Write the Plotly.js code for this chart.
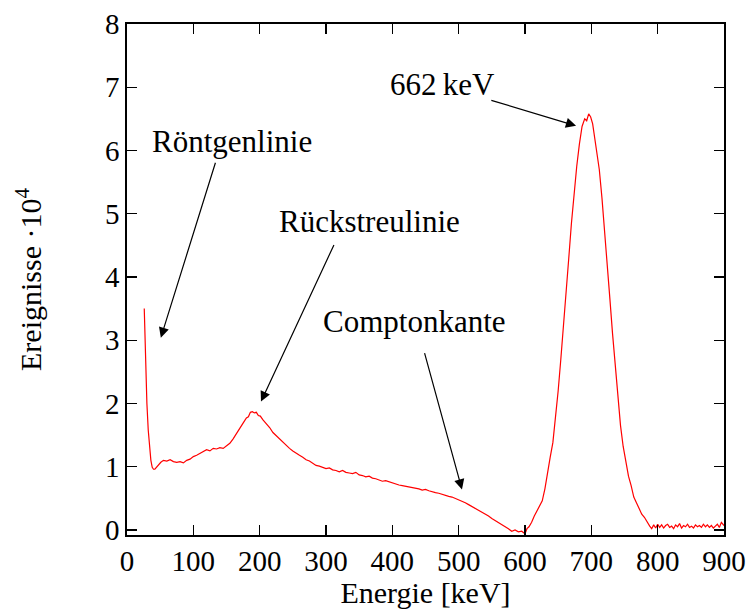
<!DOCTYPE html>
<html>
<head>
<meta charset="utf-8">
<script src="https://cdn.plot.ly/plotly-3.0.1.min.js"></script>
<style>
  html, body { margin: 0; padding: 0; background: #ffffff; }
  #chart { width: 751px; height: 609px; }
</style>
</head>
<body>
<div id="chart"></div>
<script>
// Gamma spectrum of Cs-137: energy in keV, counts in units of 10^4
const energy = [
  26, 28, 30, 32, 34, 36, 38, 40, 42, 45, 48, 51, 55, 60, 65, 70, 75, 80, 85, 90,
  95, 100, 105, 110, 115, 120, 125, 130, 135, 140, 145, 150, 155, 160, 165, 170, 175, 180, 183, 186,
  189, 192, 195, 198, 201, 205, 210, 215, 220, 225, 230, 235, 240, 245, 250, 255, 260, 265, 270, 275,
  280, 285, 290, 295, 300, 305, 310, 315, 320, 325, 330, 335, 340, 345, 350, 355, 360, 365, 370, 375,
  380, 385, 390, 395, 400, 405, 410, 415, 420, 425, 430, 435, 440, 445, 450, 455, 460, 465, 470, 475,
  480, 485, 490, 495, 500, 505, 510, 515, 520, 525, 530, 535, 540, 545, 550, 555, 560, 565, 570, 575,
  580, 585, 590, 595, 600, 603, 606, 610, 614, 618, 622, 626, 630, 634, 638, 642, 646, 650, 654, 658,
  662, 666, 670, 674, 678, 682, 686, 690, 693, 696, 699, 702, 705, 708, 712, 716, 720, 724, 728, 732,
  736, 740, 744, 748, 752, 756, 760, 764, 768, 772, 776, 780, 784, 788, 791, 794, 797, 800, 803, 806,
  809, 812, 815, 818, 821, 824, 827, 830, 833, 836, 839, 842, 845, 848, 851, 854, 857, 860, 863, 866,
  869, 872, 875, 878, 881, 884, 887, 890, 893, 896, 900
];
const counts = [
  3.50, 2.55, 2.00, 1.58, 1.28, 1.10, 0.99, 0.96, 0.96, 1.00, 1.04, 1.07, 1.10, 1.09, 1.11, 1.08, 1.07, 1.08, 1.06, 1.10,
  1.12, 1.16, 1.18, 1.21, 1.23, 1.27, 1.25, 1.29, 1.28, 1.30, 1.29, 1.33, 1.37, 1.44, 1.53, 1.62, 1.69, 1.77, 1.79, 1.86,
  1.87, 1.85, 1.86, 1.81, 1.80, 1.74, 1.68, 1.62, 1.54, 1.49, 1.44, 1.38, 1.34, 1.29, 1.25, 1.21, 1.18, 1.15, 1.11, 1.09,
  1.05, 1.02, 1.01, 0.99, 0.97, 0.98, 0.95, 0.94, 0.92, 0.94, 0.91, 0.90, 0.89, 0.91, 0.87, 0.86, 0.84, 0.85, 0.82, 0.81,
  0.79, 0.77, 0.78, 0.76, 0.74, 0.72, 0.71, 0.70, 0.69, 0.68, 0.67, 0.665, 0.65, 0.63, 0.64, 0.62, 0.60, 0.59, 0.58, 0.56,
  0.55, 0.53, 0.52, 0.50, 0.48, 0.45, 0.43, 0.40, 0.37, 0.35, 0.31, 0.29, 0.25, 0.22, 0.18, 0.15, 0.11, 0.08, 0.05, 0.02,
  -0.02, 0.00, -0.03, -0.02, -0.06, 0.02, 0.05, 0.12, 0.22, 0.30, 0.38, 0.46, 0.65, 0.92, 1.15, 1.38, 1.75, 2.20, 2.70, 3.20,
  3.70, 4.30, 4.85, 5.35, 5.75, 6.10, 6.38, 6.50, 6.47, 6.58, 6.53, 6.42, 6.22, 6.00, 5.70, 5.25, 4.75, 4.20, 3.65, 3.10,
  2.60, 2.12, 1.65, 1.32, 1.05, 0.85, 0.70, 0.52, 0.43, 0.35, 0.25, 0.20, 0.12, 0.06, 0.02, 0.08, 0.03, 0.09, 0.04, 0.08,
  0.03, 0.07, 0.09, 0.04, 0.06, 0.02, 0.08, 0.05, 0.10, 0.03, 0.07, 0.05, 0.09, 0.04, 0.06, 0.03, 0.08, 0.05, 0.07, 0.04,
  0.09, 0.05, 0.08, 0.04, 0.07, 0.03, 0.06, 0.09, 0.04, 0.12, 0.07
];

const xTicks = [0, 100, 200, 300, 400, 500, 600, 700, 800, 900];
const yTicks = [0, 1, 2, 3, 4, 5, 6, 7, 8];

// Labelled features: text position, arrow head and arrow tail (data units)
const labelNames = ['Röntgenlinie', 'Rückstreulinie', 'Comptonkante', '662\u2009keV'];
const labelX = [158, 366, 433, 475];
const labelY = [6.14, 4.87, 3.30, 7.05];
const headX = [51, 202, 505, 677];
const headY = [3.04, 2.03, 0.64, 6.39];
const tailX = [134, 313, 448, 547];
const tailY = [5.83, 4.53, 2.82, 6.80];

const FONT = '"Liberation Serif", "DejaVu Serif", serif';

const annotations = [];
labelNames.forEach((name, i) => {
  annotations.push({
    x: labelX[i], y: labelY[i], xref: 'x', yref: 'y',
    text: name, showarrow: false,
    font: { family: FONT, size: 31, color: '#000000' }
  });
  annotations.push({
    x: headX[i], y: headY[i], xref: 'x', yref: 'y',
    ax: tailX[i], ay: tailY[i], axref: 'x', ayref: 'y',
    text: '', showarrow: true,
    arrowhead: 2, arrowsize: 1.7, arrowwidth: 1.2, arrowcolor: '#000000',
    standoff: 0, startstandoff: 0
  });
});

const trace = {
  x: energy, y: counts,
  type: 'scatter', mode: 'lines',
  line: { color: '#ff0000', width: 1.2 },
  hoverinfo: 'skip'
};

const axisCommon = {
  showline: true, linecolor: '#000000', linewidth: 1.6,
  mirror: 'ticks', ticks: 'inside', ticklen: 10, tickwidth: 1.2, tickcolor: '#000000',
  showgrid: false, zeroline: false,
  tickfont: { family: FONT, size: 29, color: '#000000' }
};

const layout = {
  width: 751, height: 609,
  margin: { l: 127, r: 27, t: 24, b: 74 },
  paper_bgcolor: '#ffffff', plot_bgcolor: '#ffffff',
  showlegend: false,
  xaxis: Object.assign({}, axisCommon, {
    range: [0, 900], tickvals: xTicks, ticktext: xTicks.map(String),
    title: { text: 'Energie [keV]', font: { family: FONT, size: 30, color: '#000000' }, standoff: 6 }
  }),
  yaxis: Object.assign({}, axisCommon, {
    range: [-0.08, 8], tickvals: yTicks, ticktext: yTicks.map(String),
    title: { text: 'Ereignisse \u00b710<sup>4</sup>', font: { family: FONT, size: 30, color: '#000000' }, standoff: 54 }
  }),
  annotations: annotations
};

Plotly.newPlot('chart', [trace], layout, { staticPlot: true, displayModeBar: false });
</script>
</body>
</html>
